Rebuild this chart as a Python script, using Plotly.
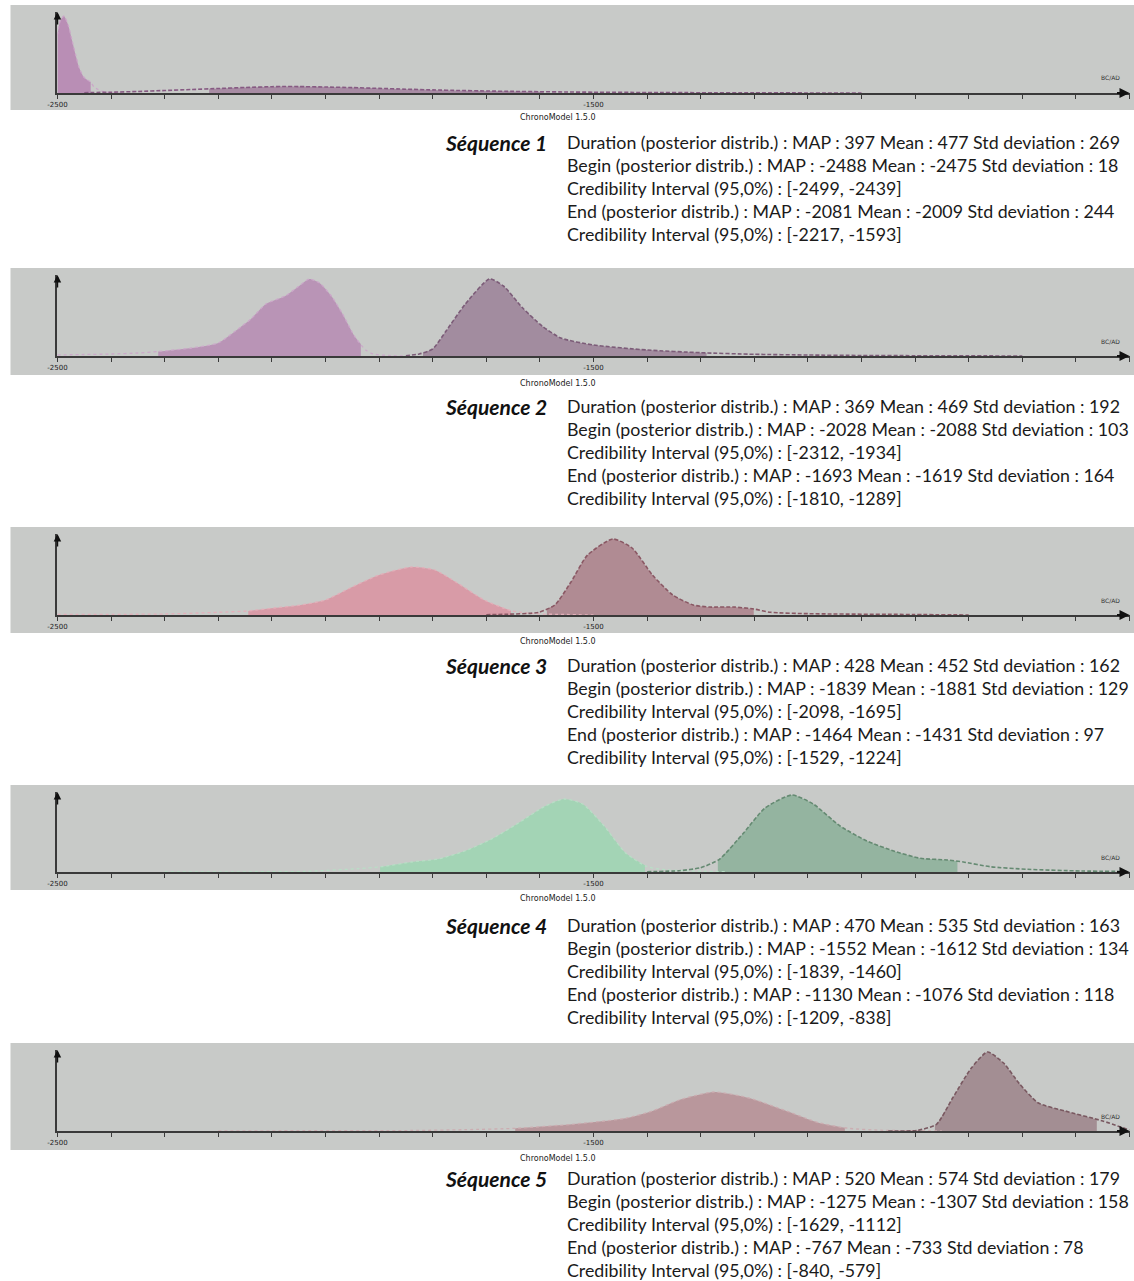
import numpy as np
import plotly.graph_objects as go

W, H = 1134, 1281

# ---------------- data ----------------
seq_names = ["Séquence 1", "Séquence 2", "Séquence 3", "Séquence 4", "Séquence 5"]
dur_map = [397, 369, 428, 470, 520]
dur_mean = [477, 469, 452, 535, 574]
dur_std = [269, 192, 162, 163, 179]
begin_map = [-2488, -2028, -1839, -1552, -1275]
begin_mean = [-2475, -2088, -1881, -1612, -1307]
begin_std = [18, 103, 129, 134, 158]
begin_ci = [(-2499, -2439), (-2312, -1934), (-2098, -1695), (-1839, -1460), (-1629, -1112)]
end_map = [-2081, -1693, -1464, -1130, -767]
end_mean = [-2009, -1619, -1431, -1076, -733]
end_std = [244, 164, 97, 118, 78]
end_ci = [(-2217, -1593), (-1810, -1289), (-1529, -1224), (-1209, -838), (-840, -579)]

tick_years = list(range(-2500, -499, 100))
tick_labels = {-2500: "-2500", -1500: "-1500", -500: "-500"}

# density curves (relative heights)
seq1_begin_year = [-2500, -2495, -2488, -2480, -2473, -2466, -2460, -2451, -2444, -2438, -2432, -2426, -2418, -2410, -2400, -2380]
seq1_begin_dens = [58, 72, 77, 68, 53, 38, 26, 16, 13, 11, 6, 4, 2, 1, 0.3, 0]
seq1_end_year = [-2450, -2400, -2350, -2300, -2250, -2200, -2150, -2100, -2081, -2050, -2000, -1950, -1900, -1850, -1800, -1750, -1700, -1650, -1600, -1550, -1500, -1400, -1300, -1200, -1000]
seq1_end_dens = [0.3, 0.8, 1.5, 2.5, 3.5, 4.5, 5.5, 6.3, 6.5, 6.4, 6, 5.4, 4.6, 3.8, 3.1, 2.5, 2.0, 1.6, 1.3, 1.0, 0.8, 0.5, 0.3, 0.15, 0]

seq2_begin_year = [-2500, -2450, -2400, -2350, -2312, -2250, -2200, -2168, -2139, -2111, -2075, -2054, -2030, -2011, -1989, -1968, -1946, -1925, -1911, -1882, -1850]
seq2_begin_dens = [1, 1.5, 2, 3, 4.5, 8, 13, 25, 37, 52, 60, 68, 77, 73, 60, 42, 20, 6, 2, 0.5, 0]
seq2_end_year = [-1850, -1825, -1800, -1775, -1739, -1694, -1668, -1632, -1596, -1561, -1500, -1400, -1300, -1200, -1100, -1000, -900, -700]
seq2_end_dens = [0.3, 2, 7, 25, 52, 77, 70, 48, 30, 18, 11, 6, 3.3, 1.7, 1, 0.5, 0.3, 0]

seq3_begin_year = [-2500, -2300, -2200, -2146, -2096, -2046, -2000, -1954, -1900, -1839, -1796, -1754, -1704, -1654, -1611, -1550, -1500]
seq3_begin_dens = [0.5, 1, 2.7, 4, 7, 10, 15, 27, 40, 48, 45, 32, 15, 4.3, 1.3, 0.5, 0]
seq3_end_year = [-1700, -1663, -1602, -1572, -1542, -1511, -1464, -1428, -1390, -1352, -1314, -1284, -1239, -1201, -1170, -1098, -905, -800]
seq3_end_dens = [0.3, 0.7, 2.7, 10, 33, 60, 76, 67, 40, 20, 10, 8, 8, 6, 2.7, 1.3, 0.5, 0]

seq4_begin_year = [-2300, -2100, -2040, -1940, -1895, -1840, -1790, -1740, -1690, -1640, -1590, -1555, -1520, -1480, -1440, -1400, -1360, -1320, -1250]
seq4_begin_dens = [0, 0.3, 0.5, 3.3, 5.3, 10, 13, 21, 33, 49, 66, 73, 68, 46, 19, 5.3, 2, 1, 0.3]
seq4_end_year = [-1400, -1340, -1300, -1265, -1220, -1180, -1130, -1090, -1040, -990, -940, -890, -840, -810, -760, -690, -590, -500]
seq4_end_dens = [0.3, 1.3, 4.3, 12.7, 39, 64, 77, 68, 46, 31, 21, 13.7, 12, 10, 5.3, 2.7, 1, 0.5]

seq5_begin_year = [-2200, -2040, -1840, -1740, -1645, -1540, -1440, -1390, -1340, -1275, -1210, -1140, -1080, -1025, -960, -895, -850]
seq5_begin_dens = [0, 0.3, 0.5, 1.3, 2.7, 6.7, 12.7, 20, 31, 39, 33, 20, 8.3, 2.7, 0.7, 0.3, 0]
seq5_end_year = [-950, -895, -860, -830, -795, -765, -735, -705, -670, -620, -550, -500]
seq5_end_dens = [0, 0.7, 6.7, 33, 63, 79, 68, 47, 28, 20, 10, 1]

# shaded regions as seen in the picture
begin_fill = [(-2500, -2438), (-2312, -1934), (-2144, -1654), (-1898, -1404), (-1646, -1031)]
end_fill = [(-2217, -1593), (-1818, -1289), (-1587, -1201), (-1268, -821), (-863, -561)]

begin_years = [seq1_begin_year, seq2_begin_year, seq3_begin_year, seq4_begin_year, seq5_begin_year]
begin_dens = [seq1_begin_dens, seq2_begin_dens, seq3_begin_dens, seq4_begin_dens, seq5_begin_dens]
end_years = [seq1_end_year, seq2_end_year, seq3_end_year, seq4_end_year, seq5_end_year]
end_dens = [seq1_end_dens, seq2_end_dens, seq3_end_dens, seq4_end_dens, seq5_end_dens]

# ---------------- styles ----------------
begin_fill_col = ["#b98eb5", "#b994b6", "#d89ba7", "#a3d4b5", "#b9979c"]
begin_line_col = ["#cba6c8", "#cba9c9", "#e2b0ba", "#b9dec6", "#cbadb1"]
end_fill_col = ["#a88ca4", "#a28c9f", "#b08b93", "#94b4a0", "#a38e93"]
end_line_col = ["#865a82", "#7c5c78", "#8a5864", "#658a72", "#795860"]

# panel geometry in pixels: gray top, axis baseline, gray bottom
gray_top = [5, 268, 527, 785, 1043]
axis_y = [93, 356, 615, 872, 1131]
gray_bot = [110, 375, 633, 890, 1150]
text_y0 = [142, 406, 665, 925, 1178]
line_step = 23
x_left_px, x_right_px = 52, 1125
SX = 1134 / 1125  # small horizontal correction for the rendering

def px(x):
    return 0.5 + (x - W / 2) / W * SX

def py(y):
    return 1 - y / H

fig = go.Figure()
shapes = []
annotations = []
layout_axes = {}

for i in range(5):
    k = "" if i == 0 else str(i + 1)
    xa, ya = "x" + k, "y" + k
    top = gray_top[i] + 7
    yr = axis_y[i] - top

    shapes.append(dict(type="rect", xref="paper", yref="paper",
                       x0=max(px(5), 0), x1=min(px(1131), 1), y0=py(gray_bot[i]), y1=py(gray_top[i]),
                       fillcolor="#c8cac8", line=dict(width=0), layer="below"))

    curves = [
        (begin_years[i], begin_dens[i], begin_fill[i], begin_fill_col[i], begin_line_col[i], "dot", 1.3),
        (end_years[i], end_dens[i], end_fill[i], end_fill_col[i], end_line_col[i], "4px,2px", 1.6),
    ]
    for yrs, dens, (f0, f1), fcol, lcol, dash, lw in curves:
        yrs = np.array(yrs, dtype=float)
        dens = np.array(dens, dtype=float)
        m = (yrs > f0) & (yrs < f1)
        fx = np.concatenate([[f0], yrs[m], [f1]])
        fy = np.concatenate([[np.interp(f0, yrs, dens)], dens[m], [np.interp(f1, yrs, dens)]])
        fig.add_trace(go.Scatter(x=fx, y=fy, mode="lines", fill="tozeroy",
                                 fillcolor=fcol, line=dict(width=0, color=fcol, shape="spline", smoothing=0.6),
                                 xaxis=xa, yaxis=ya, showlegend=False, hoverinfo="skip"))
    for yrs, dens, (f0, f1), fcol, lcol, dash, lw in curves:
        fig.add_trace(go.Scatter(x=yrs, y=dens, mode="lines",
                                 line=dict(width=lw, color=lcol, dash=dash, shape="spline", smoothing=0.6),
                                 xaxis=xa, yaxis=ya, showlegend=False, hoverinfo="skip", cliponaxis=False))

    layout_axes["xaxis" + k] = dict(
        domain=[px(x_left_px), min(px(x_right_px), 1)], range=[-2500, -500], anchor=ya,
        showline=True, linecolor="#3a3a3a", linewidth=2, ticks="outside", ticklen=4,
        tickwidth=1, tickcolor="#3a3a3a", tickvals=tick_years,
        ticktext=[tick_labels.get(t, "") for t in tick_years],
        tickfont=dict(size=7, color="#222", family="DejaVu Sans"),
        showgrid=False, zeroline=False, fixedrange=True)
    layout_axes["yaxis" + k] = dict(
        domain=[py(axis_y[i]), py(top)], range=[0, yr], anchor=xa,
        showline=True, linecolor="#3a3a3a", linewidth=2, ticks="", showticklabels=False,
        showgrid=False, zeroline=False, fixedrange=True)

    annotations.append(dict(xref=xa, yref=ya, x=-500, y=0, ax=-14, ay=0, text="",
                            showarrow=True, arrowhead=2, arrowsize=1, arrowwidth=2, arrowcolor="#111"))
    annotations.append(dict(xref=xa, yref=ya, x=-2500, y=yr, ax=0, ay=14, text="",
                            showarrow=True, arrowhead=2, arrowsize=1, arrowwidth=1.5, arrowcolor="#111"))
    annotations.append(dict(xref="paper", yref="paper", x=px(1106), y=py(axis_y[i] - 15),
                            text="BC/AD", showarrow=False, xanchor="center", yanchor="middle",
                            font=dict(size=6, color="#333", family="DejaVu Sans")))
    annotations.append(dict(xref="paper", yref="paper", x=px(553), y=py(gray_bot[i] + 8),
                            text="ChronoModel 1.5.0", showarrow=False, xanchor="center", yanchor="middle",
                            font=dict(size=8, color="#222", family="DejaVu Sans")))

    annotations.append(dict(xref="paper", yref="paper", x=px(544), y=py(text_y0[i]),
                            text="<b><i>" + seq_names[i] + "</i></b>", showarrow=False,
                            xanchor="right", yanchor="middle",
                            font=dict(size=21, color="#111", family="Lato")))
    lines = [
        f"Duration (posterior distrib.) : MAP : {dur_map[i]} Mean : {dur_mean[i]} Std deviation : {dur_std[i]}",
        f"Begin (posterior distrib.) : MAP : {begin_map[i]} Mean : {begin_mean[i]} Std deviation : {begin_std[i]}",
        f"Credibility Interval (95,0%) : [{begin_ci[i][0]}, {begin_ci[i][1]}]",
        f"End (posterior distrib.) : MAP : {end_map[i]} Mean : {end_mean[i]} Std deviation : {end_std[i]}",
        f"Credibility Interval (95,0%) : [{end_ci[i][0]}, {end_ci[i][1]}]",
    ]
    for j, t in enumerate(lines):
        annotations.append(dict(xref="paper", yref="paper", x=px(560), y=py(text_y0[i] + j * line_step),
                                text=t, showarrow=False, xanchor="left", yanchor="middle",
                                font=dict(size=17.8, color="#1a1a1a", family="Lato")))

fig.update_layout(width=W, height=H, margin=dict(l=0, r=0, t=0, b=0),
                  paper_bgcolor="white", plot_bgcolor="rgba(0,0,0,0)",
                  shapes=shapes, annotations=annotations, showlegend=False, **layout_axes)

fig.write_html("out.html", config={"displayModeBar": False},
               post_script="document.body.style.margin='0';document.body.style.overflow='hidden';"
                           "document.documentElement.style.overflow='hidden';")
